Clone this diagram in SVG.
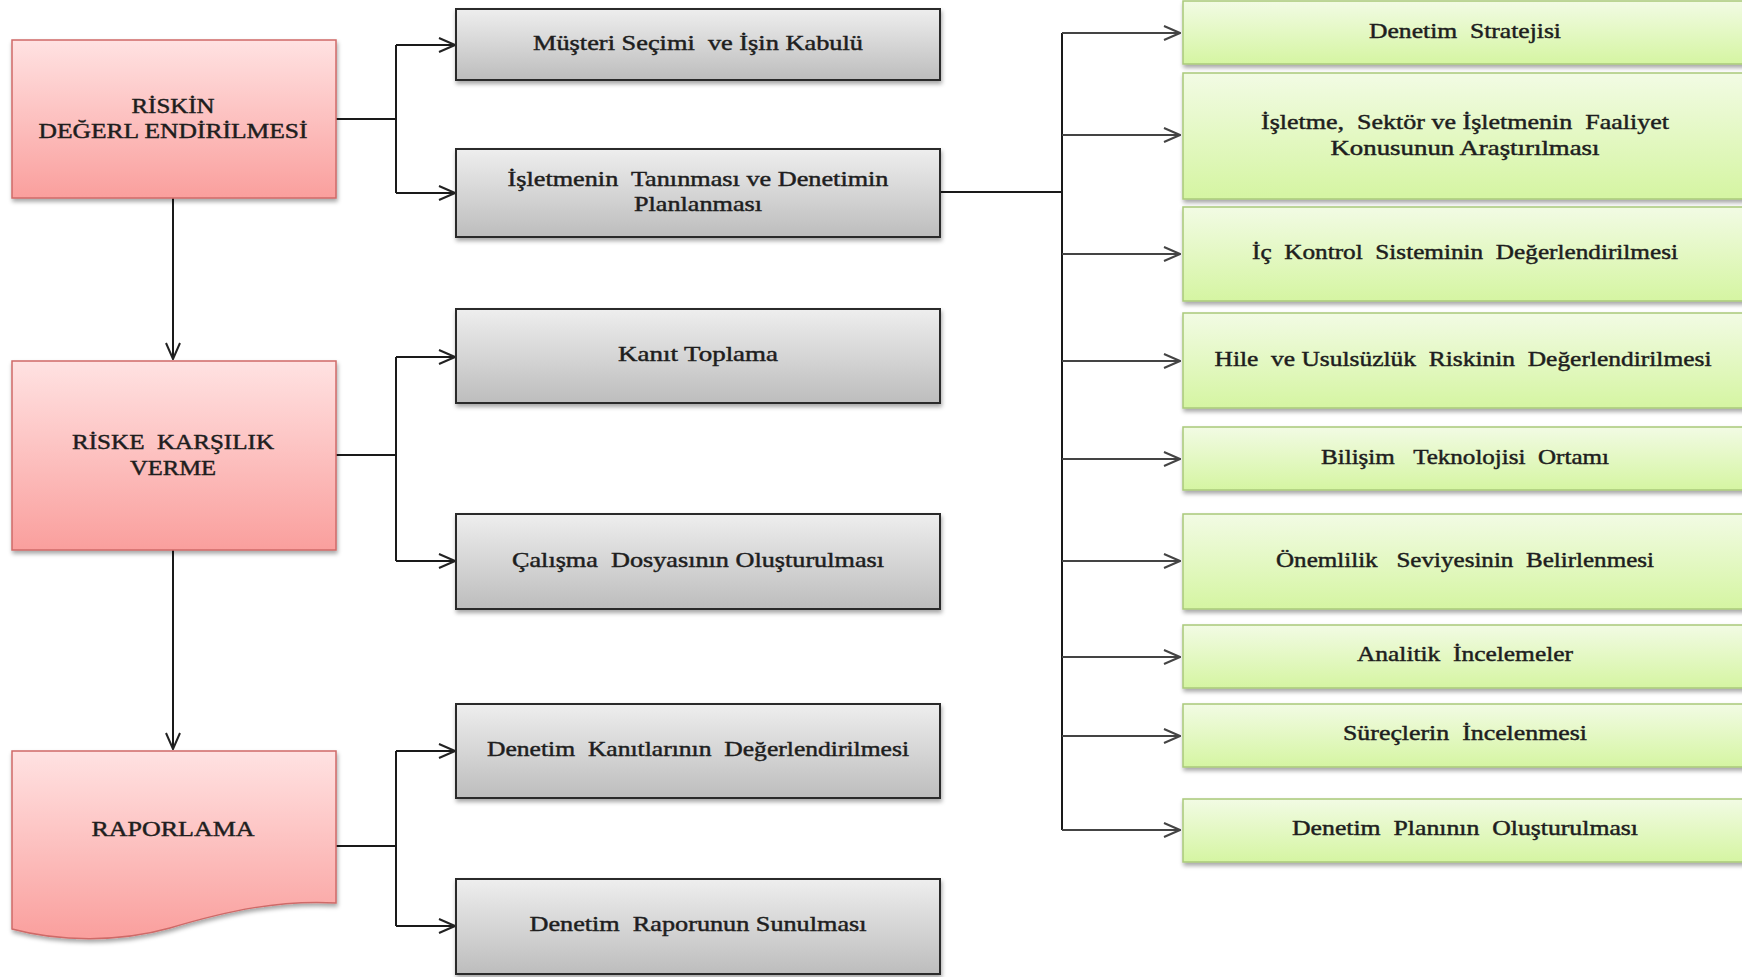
<svg xmlns="http://www.w3.org/2000/svg" width="1742" height="977" viewBox="0 0 1742 977">
<defs>
<linearGradient id="gRed" x1="0" y1="0" x2="0" y2="1"><stop offset="0" stop-color="#ffe2e2"/><stop offset="1" stop-color="#fa9f9d"/></linearGradient>
<linearGradient id="gGray" x1="0" y1="0" x2="0" y2="1"><stop offset="0" stop-color="#eeeeee"/><stop offset="1" stop-color="#bdbdbd"/></linearGradient>
<linearGradient id="gGreen" x1="0" y1="0" x2="0" y2="1"><stop offset="0" stop-color="#f2fbe4"/><stop offset="1" stop-color="#d5f5a2"/></linearGradient>
<filter id="sh" x="-5%" y="-10%" width="110%" height="130%"><feDropShadow dx="1" dy="3" stdDeviation="2" flood-color="#000" flood-opacity="0.35"/></filter>
<marker id="arr" viewBox="0 0 18 16" refX="17" refY="8" markerWidth="18" markerHeight="16" markerUnits="userSpaceOnUse" orient="auto"><path d="M1,1 L17,8 L1,15" fill="none" stroke="#222" stroke-width="2"/></marker>
<marker id="arrG" viewBox="0 0 18 16" refX="17" refY="8" markerWidth="18" markerHeight="16" markerUnits="userSpaceOnUse" orient="auto"><path d="M1,1 L17,8 L1,15" fill="none" stroke="#444" stroke-width="2"/></marker>
</defs>
<style>
text{font-family:"Liberation Serif","Times New Roman",serif;font-size:21px;fill:#1e1e1e;text-anchor:middle;dominant-baseline:central;stroke:#1e1e1e;stroke-width:0.45;white-space:pre}
.red{fill:url(#gRed);stroke:#cf6a68;stroke-width:1.5;filter:url(#sh)}
.gray{fill:url(#gGray);stroke:#2a2a2a;stroke-width:2;filter:url(#sh)}
.green{fill:url(#gGreen);stroke:#a9c97a;stroke-width:1.5;filter:url(#sh)}
.c{fill:none;stroke:#1a1a1a;stroke-width:2}
.cg{fill:none;stroke:#444;stroke-width:2}
</style>
<rect width="1742" height="977" fill="#ffffff"/>
<g id="connectors">
<path class="c" d="M173,198 V359" marker-end="url(#arr)"/>
<path class="c" d="M173,550 V749" marker-end="url(#arr)"/>
<path class="c" d="M336,119 H396 M396,45 V193"/>
<path class="c" d="M396,45 H455" marker-end="url(#arr)"/>
<path class="c" d="M396,193 H455" marker-end="url(#arr)"/>
<path class="c" d="M336,455 H396 M396,357 V561"/>
<path class="c" d="M396,357 H455" marker-end="url(#arr)"/>
<path class="c" d="M396,561 H455" marker-end="url(#arr)"/>
<path class="c" d="M336,846 H396 M396,751 V926"/>
<path class="c" d="M396,751 H455" marker-end="url(#arr)"/>
<path class="c" d="M396,926 H455" marker-end="url(#arr)"/>
<path class="c" d="M940,192 H1062 M1062,33 V830"/>
<path class="cg" d="M1062,33 H1180" marker-end="url(#arrG)"/>
<path class="cg" d="M1062,135 H1180" marker-end="url(#arrG)"/>
<path class="cg" d="M1062,254 H1180" marker-end="url(#arrG)"/>
<path class="cg" d="M1062,361 H1180" marker-end="url(#arrG)"/>
<path class="cg" d="M1062,459 H1180" marker-end="url(#arrG)"/>
<path class="cg" d="M1062,561 H1180" marker-end="url(#arrG)"/>
<path class="cg" d="M1062,657 H1180" marker-end="url(#arrG)"/>
<path class="cg" d="M1062,736 H1180" marker-end="url(#arrG)"/>
<path class="cg" d="M1062,830 H1180" marker-end="url(#arrG)"/>
</g>
<g id="n-risk-deg"><rect class="red" x="12" y="40" width="324" height="158"/><text x="173" y="106" textLength="83" lengthAdjust="spacingAndGlyphs">RİSKİN</text><text x="173" y="131" textLength="269" lengthAdjust="spacingAndGlyphs">DEĞERL ENDİRİLMESİ</text></g>
<g id="n-riske-karsilik"><rect class="red" x="12" y="361" width="324" height="189"/><text x="173" y="442" textLength="202" lengthAdjust="spacingAndGlyphs">RİSKE  KARŞILIK</text><text x="173" y="468" textLength="86" lengthAdjust="spacingAndGlyphs">VERME</text></g>
<g id="n-raporlama"><path class="red" d="M12,751 H336 V903 C280,900 230,910 170,928 C120,942 60,942 12,929 Z"/><text x="173" y="829" textLength="163" lengthAdjust="spacingAndGlyphs">RAPORLAMA</text></g>
<g id="n-musteri"><rect class="gray" x="456" y="9" width="484" height="71"/><text x="698" y="43" textLength="330" lengthAdjust="spacingAndGlyphs">Müşteri Seçimi  ve İşin Kabulü</text></g>
<g id="n-isletme-tan"><rect class="gray" x="456" y="149" width="484" height="88"/><text x="698" y="179" textLength="381" lengthAdjust="spacingAndGlyphs">İşletmenin  Tanınması ve Denetimin</text><text x="698" y="204" textLength="128" lengthAdjust="spacingAndGlyphs">Planlanması</text></g>
<g id="n-kanit"><rect class="gray" x="456" y="309" width="484" height="94"/><text x="698" y="354" textLength="160" lengthAdjust="spacingAndGlyphs">Kanıt Toplama</text></g>
<g id="n-calisma"><rect class="gray" x="456" y="514" width="484" height="95"/><text x="698" y="560" textLength="372" lengthAdjust="spacingAndGlyphs">Çalışma  Dosyasının Oluşturulması</text></g>
<g id="n-den-kanit"><rect class="gray" x="456" y="704" width="484" height="94"/><text x="698" y="749" textLength="422" lengthAdjust="spacingAndGlyphs">Denetim  Kanıtlarının  Değerlendirilmesi</text></g>
<g id="n-den-rapor"><rect class="gray" x="456" y="879" width="484" height="95"/><text x="698" y="924" textLength="337" lengthAdjust="spacingAndGlyphs">Denetim  Raporunun Sunulması</text></g>
<g id="n-strateji"><rect class="green" x="1183" y="1" width="600" height="63"/><text x="1465" y="31" textLength="192" lengthAdjust="spacingAndGlyphs">Denetim  Stratejisi</text></g>
<g id="n-isletme-sektor"><rect class="green" x="1183" y="73" width="600" height="126"/><text x="1465" y="122" textLength="408" lengthAdjust="spacingAndGlyphs">İşletme,  Sektör ve İşletmenin  Faaliyet</text><text x="1465" y="148" textLength="269" lengthAdjust="spacingAndGlyphs">Konusunun Araştırılması</text></g>
<g id="n-ic-kontrol"><rect class="green" x="1183" y="207" width="600" height="94"/><text x="1465" y="252" textLength="426" lengthAdjust="spacingAndGlyphs">İç  Kontrol  Sisteminin  Değerlendirilmesi</text></g>
<g id="n-hile"><rect class="green" x="1183" y="313" width="600" height="95"/><text x="1463" y="359" textLength="497" lengthAdjust="spacingAndGlyphs">Hile  ve Usulsüzlük  Riskinin  Değerlendirilmesi</text></g>
<g id="n-bilisim"><rect class="green" x="1183" y="427" width="600" height="63"/><text x="1465" y="457" textLength="288" lengthAdjust="spacingAndGlyphs">Bilişim   Teknolojisi  Ortamı</text></g>
<g id="n-onemlilik"><rect class="green" x="1183" y="514" width="600" height="95"/><text x="1465" y="560" textLength="378" lengthAdjust="spacingAndGlyphs">Önemlilik   Seviyesinin  Belirlenmesi</text></g>
<g id="n-analitik"><rect class="green" x="1183" y="625" width="600" height="63"/><text x="1465" y="654" textLength="216" lengthAdjust="spacingAndGlyphs">Analitik  İncelemeler</text></g>
<g id="n-surec"><rect class="green" x="1183" y="704" width="600" height="63"/><text x="1465" y="733" textLength="244" lengthAdjust="spacingAndGlyphs">Süreçlerin  İncelenmesi</text></g>
<g id="n-plan"><rect class="green" x="1183" y="799" width="600" height="63"/><text x="1465" y="828" textLength="346" lengthAdjust="spacingAndGlyphs">Denetim  Planının  Oluşturulması</text></g>
</svg>
